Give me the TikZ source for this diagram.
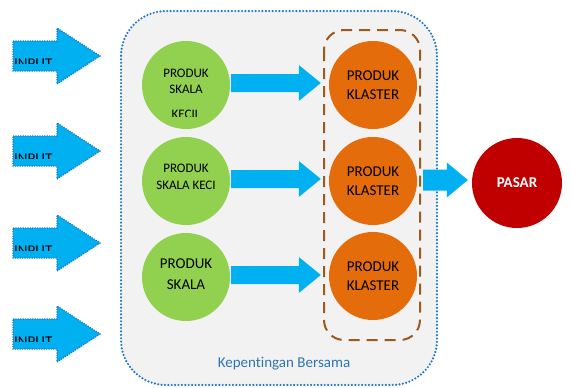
\documentclass[tikz,border=0pt]{standalone}
\usepackage{fontspec}
\setmainfont{Carlito}[Ligatures=NoCommon]
\usetikzlibrary{calc}

\definecolor{abu}{HTML}{F2F2F2}
\definecolor{birutitik}{HTML}{1F7BC9}
\definecolor{birupanah}{HTML}{00B0F0}
\definecolor{birulabel}{HTML}{2E75B6}
\definecolor{hijau}{HTML}{92D050}
\definecolor{oranye}{HTML}{E46C0A}
\definecolor{merah}{HTML}{C00000}
\definecolor{coklat}{HTML}{9C5A1C}

\tikzset{
  produk/.style={circle, fill=hijau, minimum size=88pt, inner sep=0pt},
  klaster/.style={circle, fill=oranye, minimum size=88pt, inner sep=0pt,
    align=center, font=\fontsize{15}{19}\selectfont},
  panah/.style={fill=birupanah},
  panahinput/.style={fill=birupanah, draw=birutitik, line width=1.3pt,
    dash pattern=on 1.2pt off 1.2pt},
}

\begin{document}
\begin{tikzpicture}[x=1pt,y=-1pt]
\useasboundingbox (0,0) rectangle (571,388);

% kotak kepentingan bersama
\draw [fill=abu, draw=birutitik, line width=2.4pt, line cap=round,
  dash pattern=on 0pt off 3.4pt, rounded corners=45pt] (121,11) rectangle (437,385);
\node [text=birulabel, font=\fontsize{15}{18}\selectfont] (bersama) at (284,364) {Kepentingan Bersama};

% kelompok klaster
\draw [coklat, line width=2pt, dash pattern=on 11pt off 7pt, rounded corners=20pt] (324,30) rectangle (420,340);

% panah input
\foreach \y in {56,151,243,334} {
  \draw [panahinput] (13,{\y-15}) -- (57,{\y-15}) -- (57,{\y-28}) -- (100,\y)
    -- (57,{\y+28}) -- (57,{\y+15}) -- (13,{\y+15}) -- cycle;
  \begin{scope}
    \clip (13,{\y-15}) rectangle (57,{\y+7});
    \node [anchor=north west, inner sep=0pt, font=\fontsize{15}{18}\selectfont] (input\y) at (14,{\y+2.5}) {INPUT};
  \end{scope}
}

% produk skala kecil
\node [produk] (prod1) at (186,85) {};
\node [produk] (prod2) at (186,181) {};
\node [produk] (prod3) at (186,277) {};

\node [align=center, font=\fontsize{13}{16}\selectfont] (lbl1) at (186,81) {PRODUK\\SKALA};
\begin{scope}
  \clip (142,100) rectangle (230,116);
  \node [anchor=north, inner sep=0pt, font=\fontsize{13}{16}\selectfont] (lbl1b) at (186,109.5) {KECIL};
\end{scope}
\node [align=center, font=\fontsize{13}{17}\selectfont] (lbl2) at (186,176.5) {PRODUK\\SKALA KECI};
\node [align=center, font=\fontsize{15}{21}\selectfont] (lbl3) at (186,274.5) {PRODUK\\SKALA};

% produk klaster
\node [klaster] (klas1) at (373,85) {PRODUK\\KLASTER};
\node [klaster] (klas2) at (373,181) {PRODUK\\KLASTER};
\node [klaster] (klas3) at (373,276) {PRODUK\\KLASTER};

% pasar
\node [circle, fill=merah, minimum size=90pt, inner sep=0pt, text=white,
  font=\bfseries\fontsize{15}{18}\selectfont] (pasar) at (517,183) {PASAR};

% panah produk -> klaster
\foreach \i in {1,2,3} {
  \coordinate (a\i) at ($(prod\i.east)+(1,-2)$);
  \coordinate (b\i) at ($(klas\i.west |- prod\i.east)+(-8,-2)$);
  \fill [panah] ($(a\i)+(0,-9)$) -- ($(b\i)+(-22,-9)$) -- ($(b\i)+(-22,-18)$) -- (b\i)
    -- ($(b\i)+(-22,18)$) -- ($(b\i)+(-22,9)$) -- ($(a\i)+(0,9)$) -- cycle;
}

% panah klaster -> pasar
\coordinate (ap) at ($(klas2.east)+(6,-1)$);
\coordinate (bp) at ($(pasar.west)+(-4,-3)$);
\fill [panah] ($(ap)+(0,-10.5)$) -- ($(bp)+(-21,-10.5)$) -- ($(bp)+(-21,-17.5)$) -- (bp)
  -- ($(bp)+(-21,17.5)$) -- ($(bp)+(-21,10.5)$) -- ($(ap)+(0,10.5)$) -- cycle;

\end{tikzpicture}
\end{document}
